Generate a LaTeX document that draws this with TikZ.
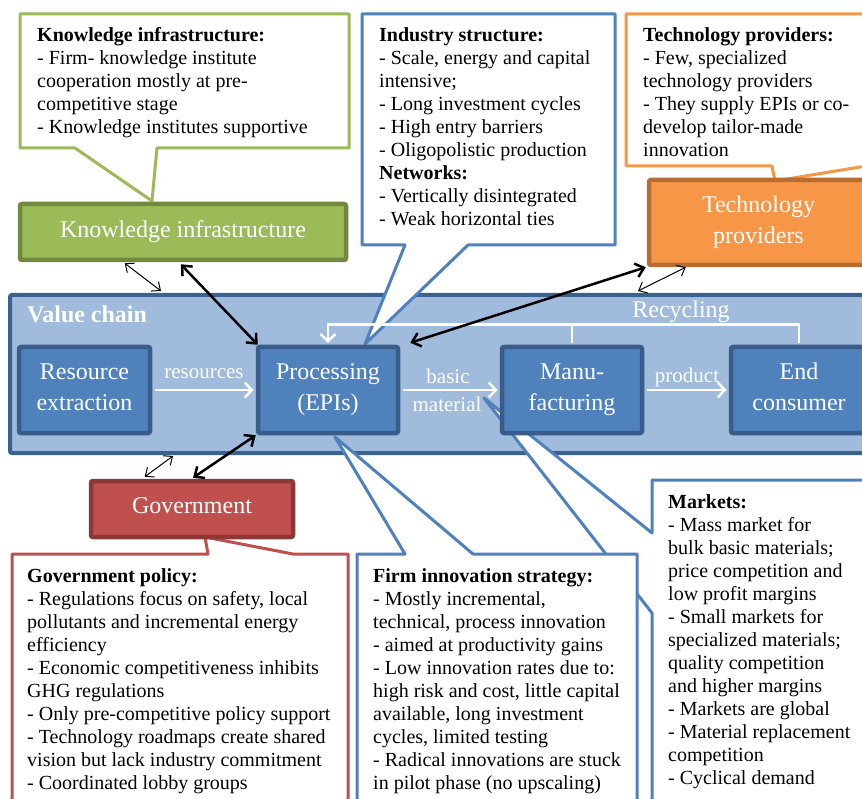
\documentclass[tikz,border=0pt]{standalone}
\usepackage{fontspec}
\setmainfont{Liberation Serif}
\usetikzlibrary{arrows.meta,calc}
\definecolor{kgreen}{HTML}{9BBB59}
\definecolor{kgreenD}{HTML}{71893F}
\definecolor{torange}{HTML}{F79646}
\definecolor{torangeD}{HTML}{B66D31}
\definecolor{vblue}{HTML}{4F81BD}
\definecolor{vblueD}{HTML}{385D8A}
\definecolor{gred}{HTML}{C0504D}
\definecolor{gredD}{HTML}{8C3836}
\definecolor{vcfill}{HTML}{A0BBDB}
\definecolor{vcborder}{HTML}{3B6190}
\newcommand\calloutlines[1]{\begin{tabular}[t]{@{}l@{}}#1\end{tabular}}
\tikzset{
  box/.style={draw, line width=4.5pt, rounded corners=2pt, inner sep=0pt, align=center,
    text=white, font=\fontsize{24}{31}\selectfont,
    execute at end node={\rule[-6pt]{0pt}{6pt}}},
  callout/.style={draw, fill=white, line width=3pt, line join=round},
  ctext/.style={anchor=base west, inner sep=0pt, font=\fontsize{20}{23}\selectfont},
  flow/.style={draw=white, line width=2.5pt, -{Straight Barb[length=7pt,width=15pt]}},
  flowline/.style={draw=white, line width=2.5pt},
  flowlabel/.style={text=white, font=\fontsize{21}{26}\selectfont, inner sep=0pt, anchor=base},
  strong/.style={line width=2.5pt, {Straight Barb[length=8pt,width=14pt]}-{Straight Barb[length=8pt,width=14pt]}},
  weak/.style={line width=1pt, {Straight Barb[length=7pt,width=12pt]}-{Straight Barb[length=7pt,width=12pt]}},
}
\begin{document}
\begin{tikzpicture}[x=1pt,y=-1pt]
\useasboundingbox (0,0) rectangle (862,799);
\fill[white] (0,0) rectangle (862,799);
\clip (0,0) rectangle (862,799);

% value chain background
\node[draw=vcborder, fill=vcfill, line width=4pt, rounded corners=2pt, minimum width=870pt, minimum height=158pt, inner sep=0pt] (vc) at (445,374) {};
\node[anchor=base west, inner sep=0pt, text=white, font=\fontsize{24}{28}\selectfont\bfseries] (vclabel) at (27,323) {Value chain};

% callouts
\draw[callout, draw=vblue] (652,480) -- (880,480) -- (880,830) -- (652,830) -- (652,613) -- (484,398) -- (652,533) -- cycle;
\node[ctext] (mtext) at (668,508) {\calloutlines{\textbf{Markets:}\\
- Mass market for\\
bulk basic materials;\\
price competition and\\
low profit margins\\
- Small markets for\\
specialized materials;\\
quality competition\\
and higher margins\\
- Markets are global\\
- Material replacement\\
competition\\
- Cyclical demand}};

\draw[callout, draw=vblue] (357,554) -- (405,554) -- (335,437) -- (473,554) -- (637,554) -- (637,830) -- (357,830) -- cycle;
\node[ctext] (ftext) at (373,582) {\calloutlines{\textbf{Firm innovation strategy:}\\
- Mostly incremental,\\
technical, process innovation\\
- aimed at productivity gains\\
- Low innovation rates due to:\\
high risk and cost, little capital\\
available, long investment\\
cycles, limited testing\\
- Radical innovations are stuck\\
in pilot phase (no upscaling)}};

\draw[callout, draw=gred] (12,554) -- (208,554) -- (205,537) -- (293,554) -- (348,554) -- (348,830) -- (12,830) -- cycle;
\node[ctext] (gtext) at (27,582) {\calloutlines{\textbf{Government policy:}\\
- Regulations focus on safety, local\\
pollutants and incremental energy\\
efficiency\\
- Economic competitiveness inhibits\\
GHG regulations\\
- Only pre-competitive policy support\\
- Technology roadmaps create shared\\
vision but lack industry commitment\\
- Coordinated lobby groups}};

\draw[callout, draw=vblue] (362,14) -- (615,14) -- (615,245) -- (468,245) -- (365,344) -- (405,245) -- (362,245) -- cycle;
\node[ctext] (itext) at (379,42) {\calloutlines{\textbf{Industry structure:}\\
- Scale, energy and capital\\
intensive;\\
- Long investment cycles\\
- High entry barriers\\
- Oligopolistic production\\
\textbf{Networks:}\\
- Vertically disintegrated\\
- Weak horizontal ties}};

\draw[callout, draw=kgreen] (20,14) -- (349,14) -- (349,148) -- (157,148) -- (152,201) -- (75,148) -- (20,148) -- cycle;
\node[ctext] (ktext) at (37,42) {\calloutlines{\textbf{Knowledge infrastructure:}\\
- Firm- knowledge institute\\
cooperation mostly at pre-\\
competitive stage\\
- Knowledge institutes supportive}};

\draw[callout, draw=torange] (626,14) -- (880,14) -- (880,166) -- (866,166) -- (775,181) -- (772,166) -- (626,166) -- cycle;
\node[ctext] (ttext) at (643,42) {\calloutlines{\textbf{Technology providers:}\\
- Few, specialized\\
technology providers\\
- They supply EPIs or co-\\
develop tailor-made\\
innovation}};

% actor boxes
\node[box, draw=kgreenD, fill=kgreen, minimum width=326pt, minimum height=56pt] (kb) at (183,232) {Knowledge infrastructure};
\node[box, draw=torangeD, fill=torange, minimum width=219pt, minimum height=85pt] (tp) at (758.5,222.5) {Technology\\providers};
\node[box, draw=gredD, fill=gred, minimum width=202pt, minimum height=56pt] (gov) at (192,509) {Government};

% value chain boxes
\node[box, draw=vblueD, fill=vblue, minimum width=131pt, minimum height=86pt] (re) at (84.5,390) {Resource\\extraction};
\node[box, draw=vblueD, fill=vblue, minimum width=140pt, minimum height=86pt] (proc) at (328,390) {Processing\\(EPIs)};
\node[box, draw=vblueD, fill=vblue, minimum width=140pt, minimum height=86pt] (manu) at (572,390) {Manu-\\facturing};
\node[box, draw=vblueD, fill=vblue, minimum width=136pt, minimum height=86pt] (ec) at (799,390) {End\\consumer};

% flows
\draw[flow, shorten <=2.25pt, shorten >=2.25pt] (re.east) -- (proc.west);
\node[flowlabel] (lres) at (204,378) {resources};
\draw[flow, shorten <=2.25pt, shorten >=2.25pt] (proc.east) -- (manu.west);
\node[flowlabel] (lbasic) at (448,384) {basic};
\node[flowlabel] (lmat) at (447,411) {material};
\draw[flow, shorten <=2.25pt, shorten >=2.25pt] (manu.east) -- (ec.west);
\node[flowlabel] (lprod) at (687,383) {product};
\draw[flow] ($(ec.north)+(0,-2)$) -- ++(0,-18) -| ($(proc.north)+(0,-2)$);
\draw[flowline] ($(manu.north)+(0,-2)$) -- ++(0,-18);
\node[flowlabel, font=\fontsize{24}{28}\selectfont] (lrec) at (681,318) {Recycling};

% interactions
\draw[strong] ($(kb.south west)+(163,2)$) -- ($(proc.north west)+(2,0)$);
\draw[weak] ($(kb.south west)+(107,1)$) -- ($(vc.north west)+(153,-2)$);
\draw[strong] ($(tp.south west)+(-1,0)$) -- ($(proc.north east)+(10,-2)$);
\draw[weak] ($(tp.south west)+(39,0)$) -- ($(vc.north west)+(630,-2)$);
\draw[strong] ($(gov.north)+(1,-1)$) -- (proc.south west);
\draw[weak] ($(gov.north west)+(56,-2)$) -- ($(vc.south west)+(165,1)$);
\end{tikzpicture}
\end{document}
